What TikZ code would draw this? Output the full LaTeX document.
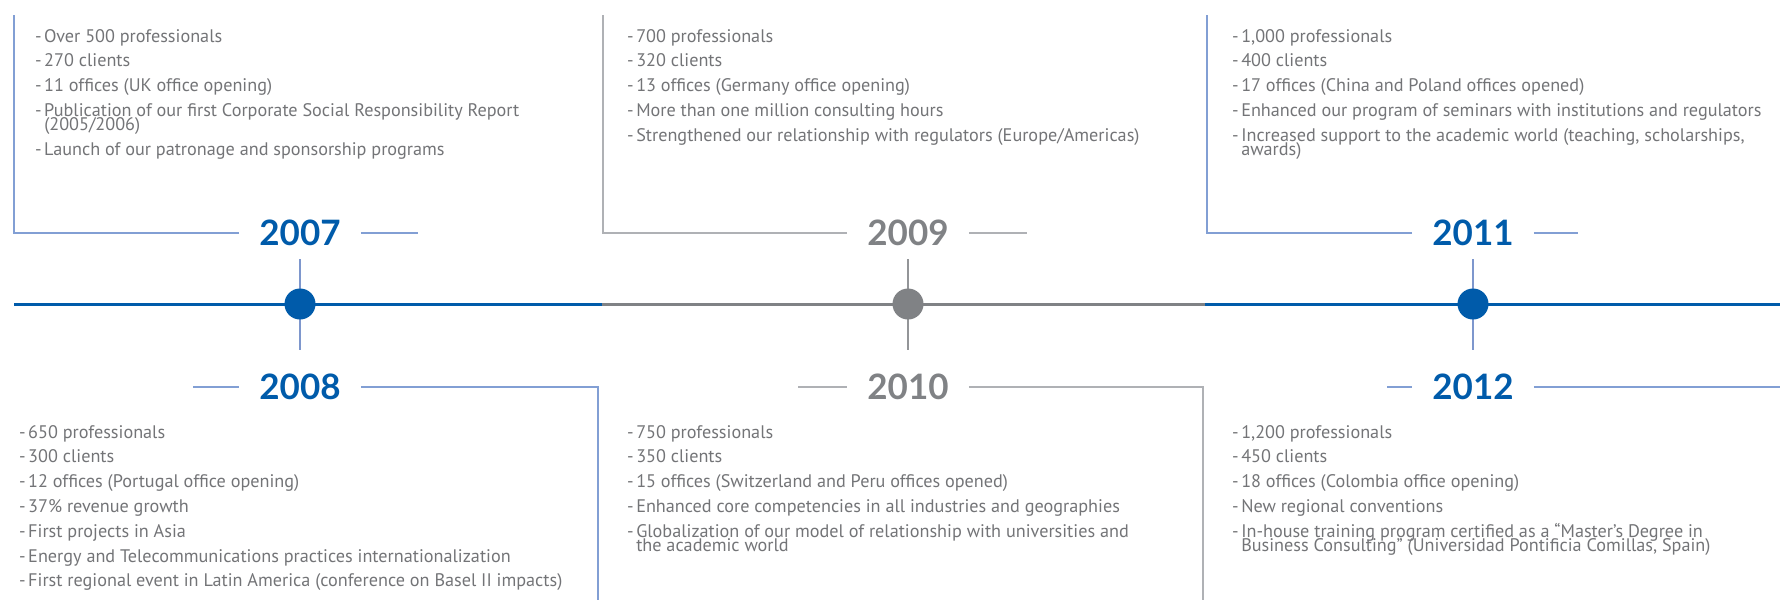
\documentclass[tikz,border=0pt]{standalone}
\usepackage{fontspec}
\setmainfont{PT Sans}
\newfontfamily\yearfont{Lato}
\definecolor{mblue}{HTML}{005BAA}
\definecolor{mgray}{HTML}{808285}
\definecolor{lblue}{HTML}{829FD4}
\definecolor{lgray}{HTML}{AFB1B5}
\definecolor{tblue}{HTML}{7E97CD}
\definecolor{tgray}{HTML}{939598}
\definecolor{txt}{HTML}{737477}
\newcommand{\hy}{-\kern2.5pt}
\newcommand{\hyfill}{\hphantom{\hy}}
\newcommand{\nextitem}{\\[10.6pt]}
\newcommand{\infofont}{\fontsize{18.2}{14.2}\selectfont\lineskiplimit=-50pt\relax}

\begin{document}
\begin{tikzpicture}[x=1pt, y=-1pt,
  year/.style={font=\yearfont\bfseries\fontsize{35}{35}\selectfont, inner xsep=20pt, inner ysep=0pt},
  info/.style={font=\infofont, text=txt, align=left, anchor=north west, inner sep=0pt},
  dot/.style={circle, minimum size=31pt, inner sep=0pt},
  axisblue/.style={draw=mblue, line width=3pt},
  axisgray/.style={draw=mgray, line width=3pt},
  boxblue/.style={draw=lblue, line width=1.2pt},
  boxgray/.style={draw=lgray, line width=1.2pt},
  tickblue/.style={draw=tblue, line width=2.6pt, shorten <=13pt, shorten >=24pt},
  tickgray/.style={draw=tgray, line width=2.6pt, shorten <=13pt, shorten >=24pt}]
\useasboundingbox (0,0) rectangle (1780,600);

\node[year, text=mblue] (y2007) at (300,233) {2007};
\node[year, text=mblue] (y2008) at (300,387) {2008};
\node[year, text=mgray] (y2009) at (908,233) {2009};
\node[year, text=mgray] (y2010) at (908,387) {2010};
\node[year, text=mblue] (y2011) at (1473,233) {2011};
\node[year, text=mblue] (y2012) at (1473,387) {2012};

\coordinate (t0) at (14,304);
\coordinate (t1) at (602,304);
\coordinate (t2) at (1205,304);
\coordinate (t3) at (1780,304);
\draw[axisblue] (t0) -- (t1);
\draw[axisgray] (t1) -- (t2);
\draw[axisblue] (t2) -- (t3);

\draw[tickblue] (y2007.south) -- (y2008.north);
\draw[tickgray] (y2009.south) -- (y2010.north);
\draw[tickblue] (y2011.south) -- (y2012.north);

\node[dot, fill=mblue] (d2007) at (300,304) {};
\node[dot, fill=mgray] (d2009) at (908,304) {};
\node[dot, fill=mblue] (d2011) at (1473,304) {};

\coordinate (c2007) at (14,15);
\coordinate (e2007) at (418,233);
\coordinate (s2008) at (193,387);
\coordinate (c2008) at (598,600);
\coordinate (c2009) at (603,15);
\coordinate (e2009) at (1027,233);
\coordinate (s2010) at (798,387);
\coordinate (c2010) at (1203,600);
\coordinate (c2011) at (1207,15);
\coordinate (e2011) at (1578,233);
\coordinate (s2012) at (1387,387);
\coordinate (c2012) at (1780,387);

\draw[boxblue] (y2007.west) -| (c2007);
\draw[boxblue] (y2007.east) -- (e2007);
\draw[boxblue] (s2008) -- (y2008.west);
\draw[boxblue] (y2008.east) -| (c2008);
\draw[boxgray] (y2009.west) -| (c2009);
\draw[boxgray] (y2009.east) -- (e2009);
\draw[boxgray] (s2010) -- (y2010.west);
\draw[boxgray] (y2010.east) -| (c2010);
\draw[boxblue] (y2011.west) -| (c2011);
\draw[boxblue] (y2011.east) -- (e2011);
\draw[boxblue] (s2012) -- (y2012.west);
\draw[boxblue] (y2012.east) -- (c2012);

\node[info] (i2007) at (35,29) {\hy Over 500 professionals\nextitem
  \hy 270 clients\nextitem
  \hy 11 offices (UK office opening)\nextitem
  \hy Publication of our first Corporate Social Responsibility Report\\
  \hyfill (2005/2006)\nextitem
  \hy Launch of our patronage and sponsorship programs};
\node[info] (i2008) at (19,425) {\hy 650 professionals\nextitem
  \hy 300 clients\nextitem
  \hy 12 offices (Portugal office opening)\nextitem
  \hy 37\% revenue growth\nextitem
  \hy First projects in Asia\nextitem
  \hy Energy and Telecommunications practices internationalization\nextitem
  \hy First regional event in Latin America (conference on Basel II impacts)};
\node[info] (i2009) at (627,29) {\hy 700 professionals\nextitem
  \hy 320 clients\nextitem
  \hy 13 offices (Germany office opening)\nextitem
  \hy More than one million consulting hours\nextitem
  \hy Strengthened our relationship with regulators (Europe/Americas)};
\node[info] (i2010) at (627,425) {\hy 750 professionals\nextitem
  \hy 350 clients\nextitem
  \hy 15 offices (Switzerland and Peru offices opened)\nextitem
  \hy Enhanced core competencies in all industries and geographies\nextitem
  \hy Globalization of our model of relationship with universities and\\
  \hyfill the academic world};
\node[info] (i2011) at (1232,29) {\hy 1,000 professionals\nextitem
  \hy 400 clients\nextitem
  \hy 17 offices (China and Poland offices opened)\nextitem
  \hy Enhanced our program of seminars with institutions and regulators\nextitem
  \hy Increased support to the academic world (teaching, scholarships,\\
  \hyfill awards)};
\node[info] (i2012) at (1232,425) {\hy 1,200 professionals\nextitem
  \hy 450 clients\nextitem
  \hy 18 offices (Colombia office opening)\nextitem
  \hy New regional conventions\nextitem
  \hy In-house training program certified as a “Master’s Degree in\\
  \hyfill Business Consulting” (Universidad Pontificia Comillas, Spain)};
\end{tikzpicture}
\end{document}
